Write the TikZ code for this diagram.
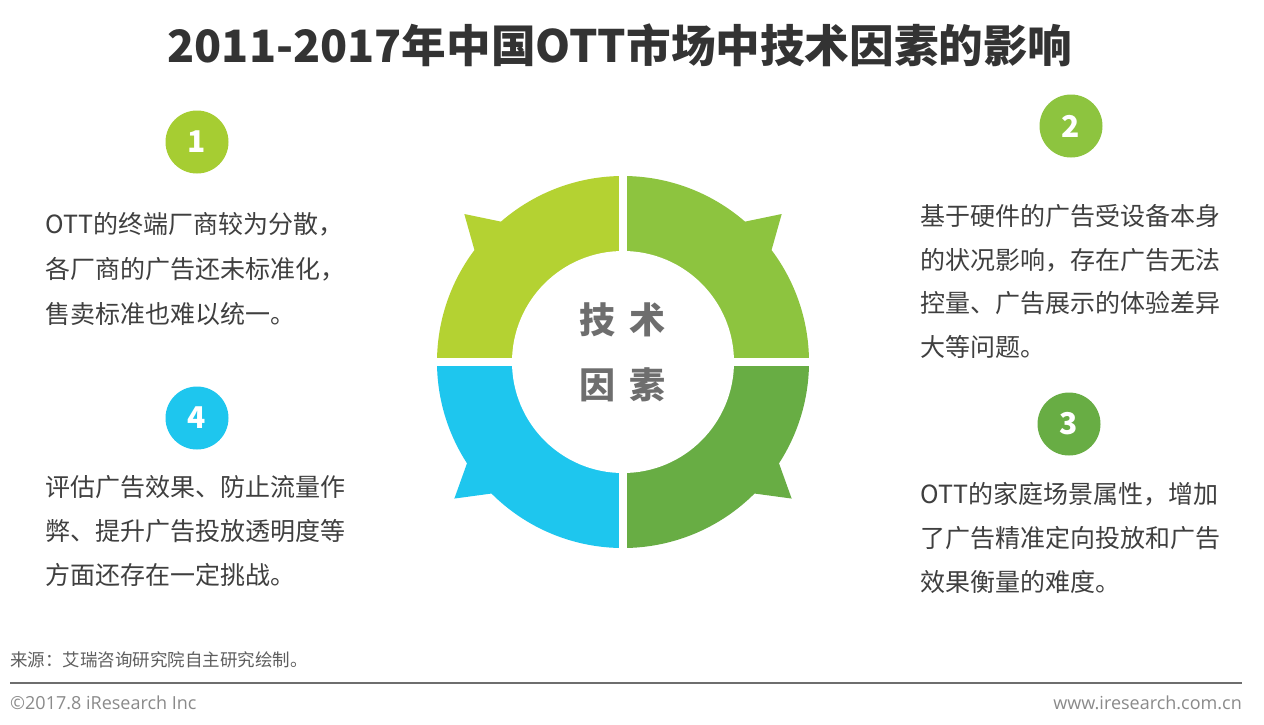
\documentclass[tikz,border=0pt]{standalone}
\usepackage{fontspec}
\setmainfont{Noto Sans CJK SC}
\newfontfamily\latinf{Open Sans}
\definecolor{segA}{HTML}{B4D232}
\definecolor{segB}{HTML}{8DC43F}
\definecolor{segC}{HTML}{68AD44}
\definecolor{segD}{HTML}{1EC6EE}
\definecolor{numA}{HTML}{A6CD32}
\definecolor{titlec}{HTML}{333333}
\definecolor{bodyc}{HTML}{3F3F3F}
\definecolor{centc}{HTML}{6E6E6E}
\definecolor{footc}{HTML}{5E5E5E}
\definecolor{footl}{HTML}{8A8A8A}
\newcommand\ringseg[4]{%
  \fill[#4] (0,0) -- (#1:186) arc[start angle=#1, end angle={#3-6}, radius=186]
    -- ({#3}:217) -- ({#3+6}:186) arc[start angle={#3+6}, end angle=#2, radius=186] -- cycle;}
\tikzset{
  numc/.style={circle, minimum size=63pt, inner sep=0pt, text=white,
    font=\fontsize{30}{32}\selectfont\bfseries},
  bodyt/.style={anchor=base west, inner sep=0pt, text=bodyc,
    font=\fontsize{25}{28}\selectfont},
  centt/.style={inner sep=0pt, text=centc, font=\fontsize{36}{40}\selectfont\bfseries},
}
\begin{document}
\begin{tikzpicture}[x=1pt,y=-1pt]
\useasboundingbox (0,0) rectangle (1264,724);
\fill[white] (0,0) rectangle (1264,724);
\node[inner sep=0pt, text=titlec, font=\fontsize{44.6}{50}\selectfont\bfseries] (title) at (620,45) {2011-2017年中国OTT市场中技术因素的影响};
% ring
\begin{scope}[shift={(623,362)}, yscale=-1]
  \ringseg{90}{180}{137}{segA}
  \ringseg{0}{90}{43}{segB}
  \ringseg{-90}{0}{-39}{segC}
  \ringseg{180}{270}{219}{segD}
  \fill[white] (-4,-235) rectangle (4,235);
  \fill[white] (-235,-4) rectangle (235,4);
  \fill[white] (0,0) circle[radius=111];
\end{scope}
\node[centt] (c1) at (597,320) {技};
\node[centt] (c2) at (647,320) {术};
\node[centt] (c3) at (597,385) {因};
\node[centt] (c4) at (647,385) {素};
% numbers
\node[numc, fill=numA] (n1) at (197,142) {1};
\node[numc, fill=segB] (n2) at (1071,126) {2};
\node[numc, fill=segC] (n3) at (1069,424) {3};
\node[numc, fill=segD] (n4) at (197,418) {4};
% block 1
\node[bodyt] (a1) at (45,233) {OTT的终端厂商较为分散，};
\node[bodyt] (a2) at (45,278) {各厂商的广告还未标准化，};
\node[bodyt] (a3) at (45,323) {售卖标准也难以统一。};
% block 2
\node[bodyt] (b1) at (920,225) {基于硬件的广告受设备本身};
\node[bodyt] (b2) at (920,269) {的状况影响，存在广告无法};
\node[bodyt] (b3) at (920,312) {控量、广告展示的体验差异};
\node[bodyt] (b4) at (920,356) {大等问题。};
% block 3
\node[bodyt] (d1) at (920,503) {OTT的家庭场景属性，增加};
\node[bodyt] (d2) at (920,547) {了广告精准定向投放和广告};
\node[bodyt] (d3) at (920,591) {效果衡量的难度。};
% block 4
\node[bodyt] (e1) at (45,496) {评估广告效果、防止流量作};
\node[bodyt] (e2) at (45,540) {弊、提升广告投放透明度等};
\node[bodyt] (e3) at (45,584) {方面还存在一定挑战。};
% footer
\node[anchor=west, inner sep=0pt, text=footc, font=\fontsize{17.5}{20}\selectfont] (src) at (10,660) {来源：艾瑞咨询研究院自主研究绘制。};
\coordinate (fl) at (10,683);
\coordinate (fr) at (1242,683);
\draw[line width=2pt, color=footc!90] (fl) -- (fr);
\node[anchor=west, inner sep=0pt, text=footl, font=\latinf\fontsize{18}{20}\selectfont] (copy) at (10,703) {©2017.8 iResearch Inc};
\node[anchor=east, inner sep=0pt, text=footl, font=\latinf\fontsize{18}{20}\selectfont] (web) at (1242,703) {www.iresearch.com.cn};
\end{tikzpicture}
\end{document}
